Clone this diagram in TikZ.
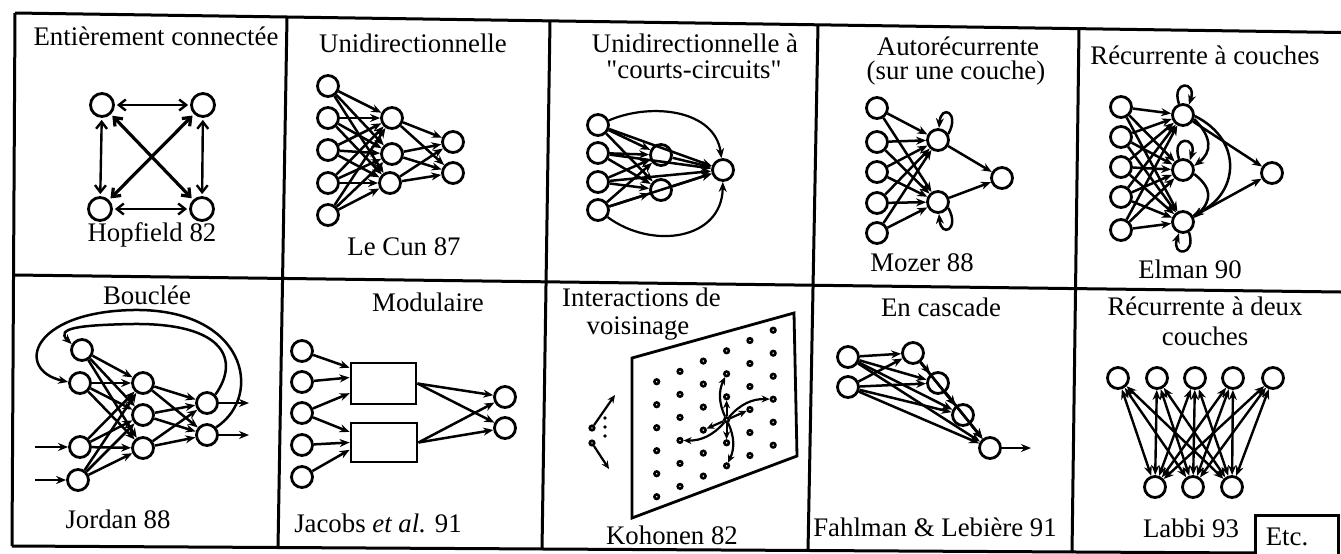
\documentclass[tikz,border=0pt]{standalone}
\usepackage{fontspec}
\setmainfont{Liberation Serif}
\newfontfamily\qfont{Liberation Serif}
\usetikzlibrary{arrows.meta}
\begin{document}
\begin{tikzpicture}[x=1pt,y=-1pt,
  every node/.style={inner sep=0pt},
  lbl/.style={font=\fontsize{26.8}{30}\selectfont},
  neur/.style={circle,draw,line width=2.8pt,minimum size=21pt},
  frame/.style={line width=3pt},
  syn/.style={line width=2.5pt,-{Stealth[length=10pt,width=8pt]}},
  bisyn/.style={line width=2.4pt,{Stealth[length=10pt,width=8pt]}-{Stealth[length=10pt,width=8pt]}},
  hsyn/.style={line width=2.4pt,{Straight Barb[length=7pt,width=11pt]}-{Straight Barb[length=7pt,width=11pt]},shorten <=2pt,shorten >=2pt},
  ksyn/.style={line width=2.2pt,-{Stealth[length=8pt,width=7pt]}},
  dotn/.style={circle,draw,line width=2.6pt,minimum size=4.5pt},
  modbox/.style={draw,line width=2.8pt,rectangle},
]
\useasboundingbox (0,0) rectangle (1341,554);

% ---------- table ----------
\draw[frame] (15,13) -- (1341,32.5);
\draw[frame] (14,275) -- (1341,292);
\draw[frame] (12,546) -- (1255,553);
\draw[frame] (15,13) -- (12,546);
\draw[frame] (287,17) -- (278,548);
\draw[frame] (550,21) -- (542,550);
\draw[frame] (818,25) -- (808,551);
\draw[frame] (1079,29) -- (1072,553);
\draw[frame] (1255,556) -- (1255,515) -- (1338,515) -- (1338,556);

% ---------- labels ----------
\node[lbl] (t1) at (156,36) {Entièrement connectée};
\node[lbl] (t2) at (413,43) {Unidirectionnelle};
\node[lbl] (t3a) at (695,43) {Unidirectionnelle à};
\node[lbl] (t3b) at (694,70) {\qfont "courts-circuits"};
\node[lbl] (t4a) at (958,46) {Autorécurrente};
\node[lbl] (t4b) at (956,73) {(sur une couche)};
\node[lbl] (t5) at (1205,55) {Récurrente à couches};
\node[lbl] (b1) at (152,235) {Hopfield 82};
\node[lbl] (b2) at (404,247) {Le Cun 87};
\node[lbl] (b4) at (922,263) {Mozer 88};
\node[lbl] (b5) at (1190,269) {Elman 90};
\node[lbl] (t6) at (147,295) {Bouclée};
\node[lbl] (t7) at (428,302) {Modulaire};
\node[lbl,anchor=west] (t8a) at (562,297) {Interactions de};
\node[lbl] (t8b) at (638,329) {voisinage};
\node[lbl] (t9) at (941,307) {En cascade};
\node[lbl] (t10a) at (1205,306) {Récurrente à deux};
\node[lbl] (t10b) at (1205,336) {couches};
\node[lbl] (b6) at (118,519) {Jordan 88};
\node[lbl] (b7) at (378,523) {Jacobs \textit{et al.} 91};
\node[lbl] (b8) at (672,535) {Kohonen 82};
\node[lbl] (b9) at (935,527) {Fahlman \& Lebière 91};
\node[lbl] (b10) at (1191,528) {Labbi 93};
\node[lbl] (etc) at (1287,537) {Etc.};

% ---------- 1 Hopfield ----------
\node[neur,minimum size=23pt] (hA) at (102,105) {};
\node[neur,minimum size=23pt] (hB) at (203,105) {};
\node[neur,minimum size=23pt] (hC) at (100,209) {};
\node[neur,minimum size=23pt] (hD) at (202,209) {};
\draw[hsyn] (hA) -- (hB);
\draw[hsyn] (hC) -- (hD);
\draw[hsyn] (hA) -- (hC);
\draw[hsyn] (hB) -- (hD);
\draw[hsyn,line width=3.2pt] (hA) -- (hD);
\draw[hsyn,line width=3.2pt] (hB) -- (hC);

% ---------- 2 Le Cun ----------
\foreach \n/\y in {1/86,2/118,3/150,4/183,5/215} \node[neur] (lcA\n) at (328,\y) {};
\node[neur] (lcB1) at (392,118) {};
\node[neur] (lcB2) at (392,154) {};
\node[neur] (lcB3) at (390,183) {};
\node[neur] (lcC1) at (453,142) {};
\node[neur] (lcC2) at (453,173) {};
\foreach \i in {1,...,5} \foreach \j in {1,2,3} \draw[syn] (lcA\i) -- (lcB\j);
\foreach \i in {1,2,3} \foreach \j in {1,2} \draw[syn] (lcB\i) -- (lcC\j);

% ---------- 3 courts-circuits ----------
\foreach \n/\y in {1/125,2/153,3/182,4/210} \node[neur] (ccA\n) at (598,\y) {};
\node[neur] (ccB1) at (661,155) {};
\node[neur] (ccB2) at (661,190) {};
\node[neur] (ccC) at (723,170) {};
\foreach \i in {1,...,4} {\foreach \j in {1,2} \draw[syn] (ccA\i) -- (ccB\j); \draw[syn] (ccA\i) -- (ccC);}
\foreach \j in {1,2} \draw[syn] (ccB\j) -- (ccC);
\draw[syn,line width=2.2pt] (ccA1) .. controls (652,102) and (715,110) .. (ccC);
\draw[syn,line width=2.2pt] (ccA4) .. controls (652,250) and (722,240) .. (ccC);

% ---------- 4 Mozer ----------
\foreach \n/\y in {1/108,2/142,3/172,4/203,5/233} \node[neur] (mzA\n) at (877,\y) {};
\node[neur] (mzB1) at (938,140) {};
\node[neur] (mzB2) at (938,202) {};
\node[neur] (mzC) at (1002,178) {};
\foreach \i in {1,...,5} \foreach \j in {1,2} \draw[syn] (mzA\i) -- (mzB\j);
\foreach \j in {1,2} \draw[syn] (mzB\j) -- (mzC);
\draw[syn] (mzB1.30) .. controls +(12,-22) and +(2,-24) .. (mzB1.85);
\draw[syn] (mzB2.-30) .. controls +(12,22) and +(2,24) .. (mzB2.-85);

% ---------- 5 Elman ----------
\foreach \n/\y in {1/107,2/137,3/167,4/197,5/230} \node[neur] (elA\n) at (1121,\y) {};
\node[neur] (elB1) at (1183,115) {};
\node[neur] (elB2) at (1183,170) {};
\node[neur] (elB3) at (1183,222) {};
\node[neur] (elC) at (1272,173) {};
\foreach \i in {1,...,5} \foreach \j in {1,2,3} \draw[syn] (elA\i) -- (elB\j);
\draw[syn] (elB1) -- (elC);
\draw[syn] (elB3) -- (elC);
\draw[syn] (elB1.110) .. controls +(-8,-24) and +(8,-24) .. (elB1.60);
\draw[syn] (elB2.110) .. controls +(-8,-24) and +(8,-24) .. (elB2.55);
\draw[syn] (elB3.-60) .. controls +(8,24) and +(-8,24) .. (elB3.-110);
\draw[syn] (elB1.-20) .. controls +(18,18) and +(18,-14) .. (elB2.20);
\draw[syn] (elB2.-20) .. controls +(18,14) and +(18,-18) .. (elB3.20);
\draw[syn] (elB1.-5) .. controls +(50,25) and +(45,-20) .. (elB3.35);

% ---------- 6 Jordan ----------
\node[neur] (jdA1) at (82,350) {};
\node[neur] (jdA2) at (80,383) {};
\node[neur] (jdA3) at (80,447) {};
\node[neur] (jdA4) at (78,480) {};
\node[neur] (jdB1) at (143,383) {};
\node[neur] (jdB2) at (143,415) {};
\node[neur] (jdB3) at (143,448) {};
\node[neur] (jdC1) at (207,403) {};
\node[neur] (jdC2) at (207,435) {};
\coordinate (jdI1) at (35,447);
\coordinate (jdI2) at (35,480);
\coordinate (jdO1) at (249,403);
\coordinate (jdO2) at (249,435);
\foreach \i in {1,...,4} \foreach \j in {1,2,3} \draw[syn] (jdA\i) -- (jdB\j);
\foreach \i in {1,2,3} \foreach \j in {1,2} \draw[syn] (jdB\i) -- (jdC\j);
\draw[syn] (jdI1) -- (jdA3);
\draw[syn] (jdI2) -- (jdA4);
\draw[syn] (jdC1) -- (jdO1);
\draw[syn] (jdC2) -- (jdO2);
\draw[syn] (jdC1.45) .. controls (240,360) and (225,323) .. (133,324) .. controls (80,325) and (55,328) .. (jdA1.150);
\draw[syn] (jdC2.40) .. controls (265,395) and (245,308) .. (133,310) .. controls (30,312) and (15,370) .. (jdA2.175);

% ---------- 7 Modulaire ----------
\foreach \n/\y in {1/351,2/382,3/413,4/445,5/477} \node[neur] (mdA\n) at (302,\y) {};
\node[modbox,minimum width=65pt,minimum height=41pt] (mdM1) at (383.5,383.5) {};
\node[modbox,minimum width=66pt,minimum height=39pt] (mdM2) at (384,442.5) {};
\node[neur] (mdC1) at (505,397) {};
\node[neur] (mdC2) at (505,428) {};
\draw[syn] (mdA1) -- (mdM1.155);
\draw[syn] (mdA2) -- (mdM1.170);
\draw[syn] (mdA3) -- (mdM1.196);
\draw[syn] (mdA3) -- (mdM2.163);
\draw[syn] (mdA4) -- (mdM2.180);
\draw[syn] (mdA5) -- (mdM2.192);
\foreach \m in {1,2} \foreach \c in {1,2} \draw[syn] (mdM\m.east) -- (mdC\c);

% ---------- 8 Kohonen ----------
\draw[line width=2.8pt] (632,358) -- (794,313) -- (797,456) -- (632,518) -- cycle;
\foreach \i in {0,...,5} \foreach \j in {0,...,5}
  \node[dotn] (kd\i\j) at ({656.7+23.3*\i},{381.7-10.3*\i+23*\j}) {};
\draw[ksyn] (kd33) -- (kd32);
\draw[ksyn] (kd33) -- (kd23);
\draw[ksyn] (kd33) -- (kd43);
\draw[ksyn] (kd33) -- (kd34);
\draw[ksyn] (kd33) to[bend left=25] (kd31);
\draw[ksyn] (kd33) to[bend left=25] (kd13);
\draw[ksyn] (kd33) to[bend left=25] (kd35);
\draw[ksyn] (kd33) to[bend left=25] (kd53);
\node[dotn] (kmA) at (592,428) {};
\node[dotn] (kmB) at (592,443) {};
\coordinate (kmA2) at (615,395);
\coordinate (kmB2) at (609,469);
\draw[ksyn] (kmA) -- (kmA2);
\draw[ksyn] (kmB) -- (kmB2);
\foreach \y in {418,427,436} \fill (605,\y) circle (1.8pt);

% ---------- 9 Cascade ----------
\node[neur] (csA1) at (848,357) {};
\node[neur] (csA2) at (848,387) {};
\node[neur] (csB1) at (913,353) {};
\node[neur] (csB2) at (938,383) {};
\node[neur] (csB3) at (963,415) {};
\node[neur] (csC) at (990,448) {};
\coordinate (csO) at (1031,448);
\foreach \i in {1,2} \foreach \t in {csB1,csB2,csB3,csC} \draw[syn] (csA\i) -- (\t);
\draw[syn] (csB1) -- (csB2);
\draw[syn] (csB1) -- (csB3);
\draw[syn] (csB1) -- (csC);
\draw[syn] (csB2) -- (csB3);
\draw[syn] (csB2) -- (csC);
\draw[syn] (csB3) -- (csC);
\draw[syn] (csC) -- (csO);

% ---------- 10 Labbi ----------
\foreach \n/\x in {1/1118,2/1157,3/1195,4/1233,5/1273} \node[neur] (lbA\n) at (\x,378) {};
\foreach \n/\x in {1/1155,2/1193,3/1232} \node[neur] (lbB\n) at (\x,487) {};
\foreach \i in {1,...,5} \foreach \j in {1,2,3} \draw[bisyn] (lbA\i) -- (lbB\j);
\end{tikzpicture}
\end{document}
